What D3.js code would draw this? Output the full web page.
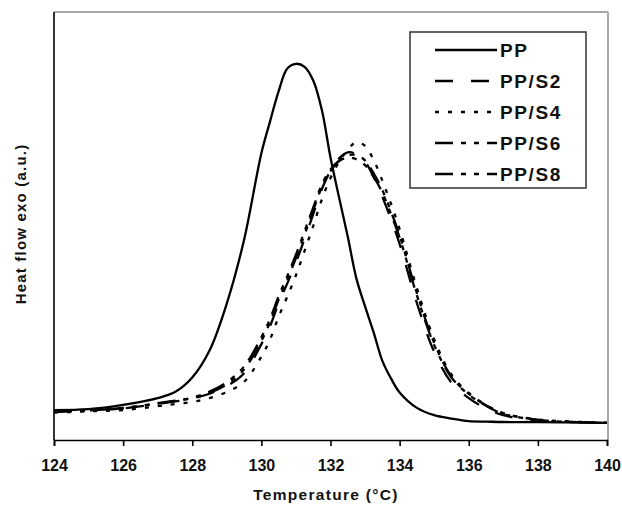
<!DOCTYPE html>
<html>
<head>
<meta charset="utf-8">
<script src="https://cdn.jsdelivr.net/npm/d3@7"></script>
<style>
  html, body { margin: 0; padding: 0; background: #fff; }
  svg { display: block; font-family: "Liberation Sans", Arial, sans-serif; }
</style>
</head>
<body>
<svg id="chart" width="622" height="507"></svg>
<script>
// Temperature grid (°C) shared by all DSC cooling curves
const temps = [124, 125, 126, 127, 127.5, 128, 128.5, 129, 129.5, 130, 130.25, 130.5, 130.75, 131,
  131.25, 131.5, 131.75, 132, 132.25, 132.5, 132.75, 133, 133.25, 133.5, 133.75, 134, 134.5, 135,
  135.5, 136, 136.5, 137, 138, 139, 140];

// Exothermic heat flow (arbitrary units)
const ppValues = [7.0, 7.2, 8.2, 9.8, 11.2, 14.6, 20.9, 31.9, 46.8, 67.0, 74.4, 81.5, 86.8, 87.9,
  87.2, 84.0, 77.1, 66.0, 56.6, 47.5, 37.7, 31.2, 25.1, 18.5, 14.4, 11.1, 7.5, 5.8,
  5.0, 4.4, 4.3, 4.2, 4.2, 4.1, 4.0];
const ppS2Values = [6.6, 6.9, 7.4, 8.4, 9.0, 9.7, 10.8, 12.6, 15.6, 22.4, 26.6, 32.0, 36.6, 41.5,
  47.0, 52.8, 58.6, 62.9, 65.8, 67.2, 66.8, 65.0, 61.4, 56.8, 51.6, 45.8, 32.0, 20.6,
  13.4, 9.8, 7.4, 5.8, 4.5, 4.2, 4.0];
const ppS4Values = [6.4, 6.7, 7.0, 7.9, 8.4, 8.9, 9.8, 11.2, 13.6, 19.5, 23.5, 28.8, 33.5, 38.5,
  44.2, 50.0, 56.2, 61.2, 65.0, 67.8, 69.6, 68.7, 65.4, 60.6, 55.2, 49.3, 35.5, 23.5,
  15.3, 11.0, 8.2, 6.3, 4.8, 4.3, 4.0];
const ppS6Values = [6.7, 7.0, 7.5, 8.6, 9.2, 9.9, 11.3, 13.5, 17.2, 24.0, 28.3, 33.6, 38.3, 43.3,
  48.8, 54.3, 59.7, 63.2, 65.2, 66.0, 65.6, 64.2, 61.5, 57.8, 52.8, 47.3, 33.8, 22.2,
  14.6, 10.6, 8.0, 6.1, 4.7, 4.2, 4.0];
const ppS8Values = [6.6, 6.9, 7.4, 8.5, 9.1, 9.8, 11.0, 13.0, 16.5, 23.2, 27.5, 32.8, 37.5, 42.5,
  48.0, 53.6, 59.1, 62.8, 65.3, 66.5, 66.6, 65.3, 62.3, 58.4, 53.4, 47.8, 34.3, 22.7,
  14.8, 10.8, 8.1, 6.2, 4.7, 4.2, 4.0];

const seriesNames = ["PP", "PP/S2", "PP/S4", "PP/S6", "PP/S8"];
const xTicks = [124, 126, 128, 130, 132, 134, 136, 138, 140];

const seriesValues = [ppValues, ppS2Values, ppS4Values, ppS6Values, ppS8Values];
const dashes = [null, "18,18", "4,9", "18,8,5,8,5,8", "18,8,5,8,5,8"];

const svg = d3.select("#chart");
const plotLeft = 54, plotRight = 607, plotTop = 12, plotBottom = 440;

const x = d3.scaleLinear().domain([124, 140]).range([plotLeft, plotRight]);
const y = d3.scaleLinear().domain([0, 100]).range([plotBottom, plotTop]);

// Plot frame: light top/right edges
svg.append("line").attr("x1", plotLeft).attr("x2", plotRight + 1).attr("y1", plotTop).attr("y2", plotTop)
  .attr("stroke", "#a8a8a8").attr("stroke-width", 2);
svg.append("line").attr("x1", plotRight + 1).attr("x2", plotRight + 1).attr("y1", plotTop).attr("y2", plotBottom)
  .attr("stroke", "#a8a8a8").attr("stroke-width", 2);

// Curves
const line = d3.line()
  .x((d, i) => x(temps[i]))
  .y(d => y(d))
  .curve(d3.curveCatmullRom.alpha(0.5));

svg.append("g")
  .selectAll("path")
  .data(seriesValues)
  .join("path")
  .attr("d", d => line(d))
  .attr("fill", "none")
  .attr("stroke", "#000")
  .attr("stroke-width", 2.3)
  .attr("stroke-linejoin", "round")
  .attr("stroke-dasharray", (d, i) => dashes[i]);

// X axis
const xAxis = d3.axisBottom(x).tickValues(xTicks).tickSize(6).tickPadding(14).tickFormat(d3.format("d"));
const gx = svg.append("g").attr("transform", `translate(0,${plotBottom})`).call(xAxis);
gx.select(".domain").attr("stroke", "#000").attr("stroke-width", 1.6);
gx.selectAll(".tick line").attr("stroke", "#000").attr("stroke-width", 1.6);
gx.selectAll(".tick text").attr("font-size", 16).attr("font-weight", "bold")
  .attr("font-family", "Liberation Sans, Arial, sans-serif").attr("fill", "#111");

// Y axis line (no ticks)
svg.append("line").attr("x1", plotLeft).attr("x2", plotLeft).attr("y1", plotTop).attr("y2", plotBottom)
  .attr("stroke", "#000").attr("stroke-width", 1.6);

// Axis titles
svg.append("text").attr("x", 326).attr("y", 500).attr("text-anchor", "middle")
  .attr("font-size", 15.5).attr("font-weight", "bold").attr("letter-spacing", 1.3).attr("fill", "#111")
  .text("Temperature (°C)");
svg.append("text").attr("transform", "translate(26,224) rotate(-90)").attr("text-anchor", "middle")
  .attr("font-size", 15).attr("font-weight", "bold").attr("letter-spacing", 1.2).attr("fill", "#111")
  .text("Heat flow exo (a.u.)");

// Legend
const lg = svg.append("g");
lg.append("rect").attr("x", 410).attr("y", 32).attr("width", 176).attr("height", 156)
  .attr("fill", "#fff").attr("stroke", "#333").attr("stroke-width", 1.5);
const rows = lg.selectAll("g.item").data(seriesNames).join("g")
  .attr("class", "item")
  .attr("transform", (d, i) => `translate(0,${50 + i * 31})`);
rows.append("line").attr("x1", 435).attr("x2", 497).attr("y1", 0).attr("y2", 0)
  .attr("stroke", "#000").attr("stroke-width", 2.4)
  .attr("stroke-dasharray", (d, i) => dashes[i]);
rows.append("text").attr("x", 500).attr("y", 7).attr("font-size", 19).attr("font-weight", "bold")
  .attr("letter-spacing", 1.6).attr("fill", "#111").text(d => d);
</script>
</body>
</html>
